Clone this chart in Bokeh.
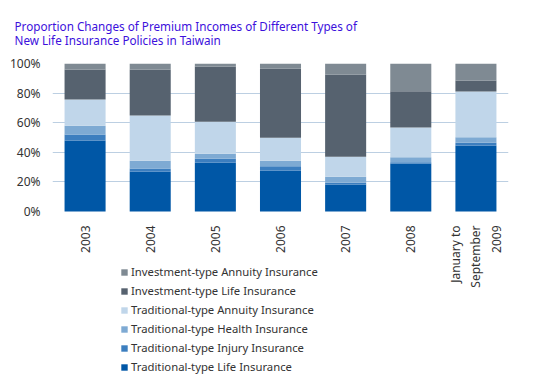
import math
from bokeh.plotting import figure
from bokeh.models import (ColumnDataSource, Legend, LegendItem, FixedTicker, Title,
                          CustomJSTickFormatter)
from bokeh.embed import file_html
from bokeh.resources import INLINE

years = ["2003", "2004", "2005", "2006", "2007", "2008", "January to\nSeptember\n2009"]
series = ["Traditional-type Life Insurance", "Traditional-type Injury Insurance",
          "Traditional-type Health Insurance", "Traditional-type Annuity Insurance",
          "Investment-type Life Insurance", "Investment-type Annuity Insurance"]
trad_life = [48.0, 26.9, 33.0, 27.5, 18.3, 32.5, 44.5]
trad_injury = [4.0, 2.2, 2.7, 3.0, 1.1, 0.7, 2.0]
trad_health = [6.0, 5.2, 3.4, 3.8, 4.1, 3.4, 3.6]
trad_annuity = [17.6, 30.5, 21.6, 15.6, 13.5, 20.1, 30.9]
inv_life = [20.3, 31.1, 37.3, 46.7, 55.6, 24.6, 7.5]
inv_annuity = [4.1, 4.1, 2.0, 3.4, 7.4, 18.7, 11.5]
y_ticks = [0, 20, 40, 60, 80, 100]
colors = ["#0057a6", "#3c7ebf", "#7eaad3", "#c0d6ea", "#56626f", "#7f8a93"]

keys = ["tl", "ti", "th", "ta", "il", "ia"]
data = dict(x=years, tl=trad_life, ti=trad_injury, th=trad_health,
            ta=trad_annuity, il=inv_life, ia=inv_annuity)
src = ColumnDataSource(data)

FONT = "Noto Sans"
# the frame extends below the bars so that the axis labels and legend sit inside it
p = figure(x_range=years, y_range=(-111.5, 100),
           frame_width=456, frame_height=313,
           output_backend="svg", toolbar_location=None,
           min_border_left=52, min_border_right=14, min_border_top=63, min_border_bottom=0)
p.outline_line_color = None

renderers = p.vbar_stack(keys, x="x", width=0.63, color=colors, line_color=None, source=src)

items = [LegendItem(label=name, renderers=[r]) for name, r in zip(series, renderers)][::-1]
legend = Legend(items=items, location=(68, 0), orientation="vertical",
                glyph_width=8, glyph_height=8, label_height=19, spacing=0,
                padding=0, margin=0, label_standoff=3, border_line_color=None,
                background_fill_alpha=0, label_text_font=FONT, label_text_font_size="11.3px",
                label_text_color="#333333")
p.add_layout(legend, "center")

p.yaxis.ticker = FixedTicker(ticks=y_ticks)
p.yaxis.formatter = CustomJSTickFormatter(code="return tick + '%';")
p.ygrid.ticker = FixedTicker(ticks=y_ticks[1:])

for ax in (p.xaxis, p.yaxis):
    ax.axis_line_color = None
    ax.major_tick_line_color = None
    ax.minor_tick_line_color = None
    ax.major_label_text_font = FONT
    ax.major_label_text_font_size = "12px"
    ax.major_label_text_color = "#333333"
p.yaxis.major_label_standoff = 6
p.xaxis.fixed_location = 0
p.xaxis.major_label_standoff = 8
p.xaxis.major_label_orientation = math.pi / 2

p.xgrid.grid_line_color = None
p.ygrid.grid_line_color = "#bccfe2"
p.ygrid.grid_line_width = 1

t = Title(text="Proportion Changes of Premium Incomes of Different Types of\nNew Life Insurance Policies in Taiwain",
          text_font=FONT, text_font_size="11.7px", text_font_style="normal",
          text_line_height=0.9,
          text_color="#3c10dc", align="left", offset=-38, standoff=31)
p.add_layout(t, "above")

open("out.html", "w").write(file_html(p, INLINE))
